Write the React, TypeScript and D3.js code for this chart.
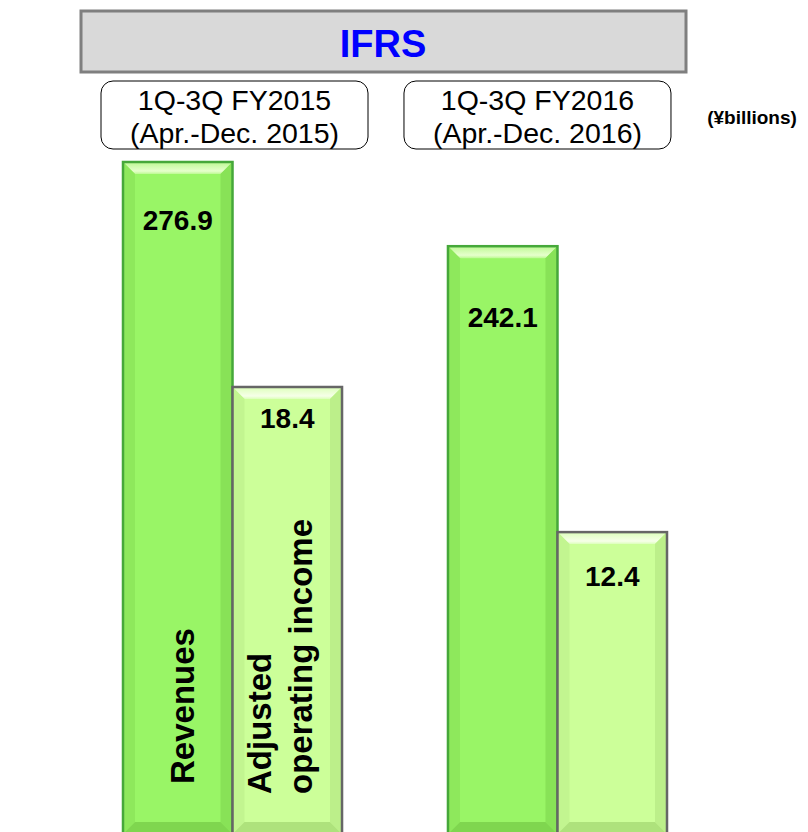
import React from "react";
import * as d3 from "d3";

// data
const periods = ["1Q-3Q FY2015", "1Q-3Q FY2016"];
const periodRanges = ["(Apr.-Dec. 2015)", "(Apr.-Dec. 2016)"];
const metrics = ["Revenues", "Adjusted operating income"];
const revenues = [276.9, 242.1];
const adjOpIncome = [18.4, 12.4];

const W = 808, H = 832;
const FONT = "'Liberation Sans', Arial, sans-serif";
const BASE = 832;

// each metric has its own scale on the slide
const yRev = d3.scaleLinear().domain([0, 276.9]).range([BASE, 162]);
const yInc = d3.scaleLinear().domain([0, 18.4]).range([BASE, 387]);

const x0 = d3.scaleBand().domain(periods).range([123, 667]).paddingInner(0.326).paddingOuter(0);
const x1 = d3.scaleBand().domain(metrics).range([0, x0.bandwidth()]).padding(0);

const styles = [
  { face: "#99f566", top: "#bdf993", hi: "#e6ffcc", left: "#8ee85c", right: "#88e257", bottom: "#7fd64f", stroke: "#46a83a" },
  { face: "#ccff99", top: "#dcffba", hi: "#f6ffe8", left: "#c2f590", right: "#bcef8a", bottom: "#aee27c", stroke: "#666666" },
];

function BevelBar({ x, y, w, h, s, id }: any) {
  const b = 12;
  const xa = x, xb = x + w, ya = y, yb = y + h;
  const pts = (p: number[][]) => p.map((d) => d.join(",")).join(" ");
  return (
    <g>
      <defs>
        <linearGradient id={"tg" + id} x1="0" y1="0" x2="0" y2="1">
          <stop offset="0" stopColor={s.top} />
          <stop offset="0.75" stopColor={s.hi} />
          <stop offset="1" stopColor={s.top} />
        </linearGradient>
      </defs>
      <rect x={xa} y={ya} width={w} height={h} fill={s.face} />
      <polygon points={pts([[xa, ya], [xb, ya], [xb - b, ya + b], [xa + b, ya + b]])} fill={`url(#tg${id})`} />
      <polygon points={pts([[xa, ya], [xa + b, ya + b], [xa + b, yb - b], [xa, yb]])} fill={s.left} />
      <polygon points={pts([[xb, ya], [xb - b, ya + b], [xb - b, yb - b], [xb, yb]])} fill={s.right} />
      <polygon points={pts([[xa, yb], [xa + b, yb - b], [xb - b, yb - b], [xb, yb]])} fill={s.bottom} />
      <rect x={xa} y={ya} width={w} height={h} fill="none" stroke={s.stroke} strokeWidth={2.5} />
    </g>
  );
}

export default function App() {
  const boxShift = [-22, -44];
  const labelShift = [0, 13];
  return (
    <div style={{ position: "absolute", left: 0, top: 0 }}>
      <svg width={W} height={H} style={{ display: "block", background: "#fff" }}>
        {/* header */}
        <rect x={81} y={11} width={605} height={61} fill="#d9d9d9" stroke="#7f7f7f" strokeWidth={3} />
        <text x={383} y={44} textAnchor="middle" dominantBaseline="central" fontFamily={FONT} fontWeight="bold" fontSize={38} fill="#0000ff">IFRS</text>

        {periods.map((p, i) => {
          const bx = (x0(p) as number) + boxShift[i];
          return (
            <g key={p}>
              <rect x={bx} y={81} width={267} height={68} rx={12} fill="#fff" stroke="#000" strokeWidth={1} />
              <text x={bx + 133.5} y={100} textAnchor="middle" dominantBaseline="central" fontFamily={FONT} fontSize={28.5}>{p}</text>
              <text x={bx + 133.5} y={133} textAnchor="middle" dominantBaseline="central" fontFamily={FONT} fontSize={28.5}>{periodRanges[i]}</text>
            </g>
          );
        })}
        <text x={752} y={117} textAnchor="middle" dominantBaseline="central" fontFamily={FONT} fontWeight="bold" fontSize={19}>(¥billions)</text>

        {periods.map((p, i) => {
          const gx = x0(p) as number;
          const bars = [
            { m: metrics[0], v: revenues[i], y: yRev(revenues[i]), s: styles[0], off: 58 },
            { m: metrics[1], v: adjOpIncome[i], y: yInc(adjOpIncome[i]), s: styles[1], off: 31 },
          ];
          return (
            <g key={p}>
              {bars.map((d, j) => {
                const bx = gx + (x1(d.m) as number);
                const bw = x1.bandwidth();
                return (
                  <g key={d.m}>
                    <BevelBar x={bx} y={d.y} w={bw} h={BASE - d.y + 2} s={d.s} id={`${i}${j}`} />
                    <text x={bx + bw / 2} y={d.y + d.off + labelShift[i]} textAnchor="middle" dominantBaseline="central" fontFamily={FONT} fontWeight="bold" fontSize={28}>
                      {d.v.toFixed(1)}
                    </text>
                  </g>
                );
              })}
            </g>
          );
        })}

        {/* metric names inside the first period's bars */}
        {(() => {
          const gx = x0(periods[0]) as number;
          const rx = gx + (x1(metrics[0]) as number);
          const ix = gx + (x1(metrics[1]) as number);
          return (
            <g fontFamily={FONT} fontWeight="bold" fontSize={33}>
              <text transform={`translate(${rx + 71},784) rotate(-90)`}>Revenues</text>
              <text transform={`translate(${ix + 38},794) rotate(-90)`}>Adjusted</text>
              <text transform={`translate(${ix + 79},794) rotate(-90)`}>operating income</text>
            </g>
          );
        })()}
      </svg>
    </div>
  );
}
